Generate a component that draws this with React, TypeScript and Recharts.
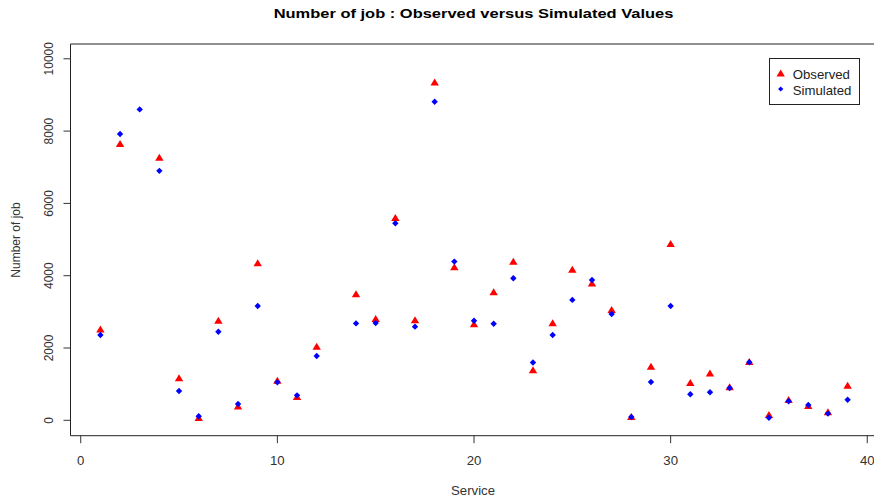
import React from "react";
import { ScatterChart, Scatter, XAxis, YAxis, ReferenceArea } from "recharts";

const services = [1, 2, 3, 4, 5, 6, 7, 8, 9, 10, 11, 12, 13, 14, 15, 16, 17, 18, 19, 20, 21, 22, 23, 24, 25, 26, 27, 28, 29, 30, 31, 32, 33, 34, 35, 36, 37, 38, 39];
const observed = [2520, 7650, null, 7270, 1170, 70, 2760, 390, 4350, 1100, 650, 2040, null, 3490, 2810, 5600, 2770, 9350, 4240, 2660, 3550, 4390, 1390, 2690, 4170, 3790, 3060, 100, 1490, 4880, 1040, 1300, 920, 1620, 150, 570, 400, 230, 960];
const simulated = [2360, 7920, 8600, 6900, 810, 110, 2450, 450, 3160, 1050, 690, 1780, null, 2680, 2690, 5450, 2590, 8810, 4390, 2755, 2670, 3930, 1600, 2360, 3330, 3880, 2940, 90, 1060, 3160, 720, 775, 895, 1605, 70, 525, 425, 185, 570];
const xTicks = [0, 10, 20, 30, 40];
const yTicks = [0, 2000, 4000, 6000, 8000, 10000];

const toPoints = (vals: (number | null)[]) =>
  services
    .map((s, i) => ({ x: s, y: vals[i] }))
    .filter((p) => p.y !== null);

const obsData = toPoints(observed);
const simData = toPoints(simulated);

const X_DOMAIN: [number, number] = [-0.52, 40.52];
const Y_DOMAIN: [number, number] = [-426, 10409];
const FONT = "'Liberation Sans', Arial, sans-serif";

const Triangle = (props: any) => {
  const { cx, cy } = props;
  if (cx == null || cy == null) return null;
  return (
    <polygon
      points={`${cx},${cy - 3.8} ${cx - 4.2},${cy + 3.2} ${cx + 4.2},${cy + 3.2}`}
      fill="#ff0000"
    />
  );
};

const Diamond = (props: any) => {
  const { cx, cy } = props;
  if (cx == null || cy == null) return null;
  return (
    <polygon
      points={`${cx},${cy - 3.2} ${cx + 3.2},${cy} ${cx},${cy + 3.2} ${cx - 3.2},${cy}`}
      fill="#0000ff"
    />
  );
};

const XTick = (props: any) => {
  const { x, payload } = props;
  return (
    <text
      transform={`translate(${x},464.5) scale(1.1,1)`}
      textAnchor="middle"
      fontSize={12}
      fill="#333"
      fontFamily={FONT}
    >
      {payload.value}
    </text>
  );
};

const YTick = (props: any) => {
  const { y, payload } = props;
  return (
    <text
      transform={`translate(52.5,${y}) rotate(-90) scale(1,1.1)`}
      textAnchor="middle"
      fontSize={12}
      fill="#333"
      fontFamily={FONT}
    >
      {payload.value}
    </text>
  );
};

export default function App() {
  return (
    <div
      style={{
        position: "absolute",
        left: 0,
        top: 0,
        width: 874,
        height: 500,
        overflow: "hidden",
        background: "#fff",
      }}
    >
      <ScatterChart
        width={880}
        height={500}
        margin={{ top: 44, right: 2.5, bottom: 0, left: 0 }}
        style={{ fontFamily: FONT }}
      >
        <XAxis
          type="number"
          dataKey="x"
          domain={X_DOMAIN}
          allowDataOverflow
          ticks={xTicks}
          interval={0}
          height={64.3}
          axisLine={false}
          tickLine={{ stroke: "#333", strokeWidth: 1 }}
          tickSize={7.5}
          tick={XTick}
        />
        <YAxis
          type="number"
          dataKey="y"
          domain={Y_DOMAIN}
          allowDataOverflow
          ticks={yTicks}
          interval={0}
          width={70.5}
          axisLine={false}
          tickLine={{ stroke: "#333", strokeWidth: 1 }}
          tickSize={7}
          tick={YTick}
        />
        <ReferenceArea
          x1={X_DOMAIN[0]}
          x2={X_DOMAIN[1]}
          y1={Y_DOMAIN[0]}
          y2={Y_DOMAIN[1]}
          fill="none"
          fillOpacity={0}
          stroke="#222"
          strokeWidth={1}
          ifOverflow="visible"
        />
        <Scatter name="Observed" data={obsData} fill="#ff0000" shape={Triangle} isAnimationActive={false} />
        <Scatter name="Simulated" data={simData} fill="#0000ff" shape={Diamond} isAnimationActive={false} />
      </ScatterChart>
      <svg
        width={874}
        height={500}
        style={{ position: "absolute", left: 0, top: 0, pointerEvents: "none" }}
        fontFamily={FONT}
      >
        <text
          transform="translate(473.5,18.3) scale(1.22,1)"
          textAnchor="middle"
          fontSize={13.5}
          fontWeight="bold"
          fill="#000"
        >
          Number of job : Observed versus Simulated Values
        </text>
        <text transform="translate(473,494.5) scale(1.1,1)" textAnchor="middle" fontSize={12} fill="#333">
          Service
        </text>
        <text transform="translate(20.3,240) rotate(-90) scale(1,1.1)" textAnchor="middle" fontSize={12} fill="#333">
          Number of job
        </text>
        <rect x={769.5} y={58.5} width={90} height={46} fill="#fff" stroke="#222" strokeWidth={1} />
        <polygon points="780.7,69.5 776.5,76.5 784.9,76.5" fill="#ff0000" />
        <polygon points="780.7,86.4 783.3,89 780.7,91.6 778.1,89" fill="#0000ff" />
        <text transform="translate(792.7,79.3) scale(1.1,1)" fontSize={12} fill="#222">
          Observed
        </text>
        <text transform="translate(792.7,95) scale(1.1,1)" fontSize={12} fill="#222">
          Simulated
        </text>
      </svg>
    </div>
  );
}
